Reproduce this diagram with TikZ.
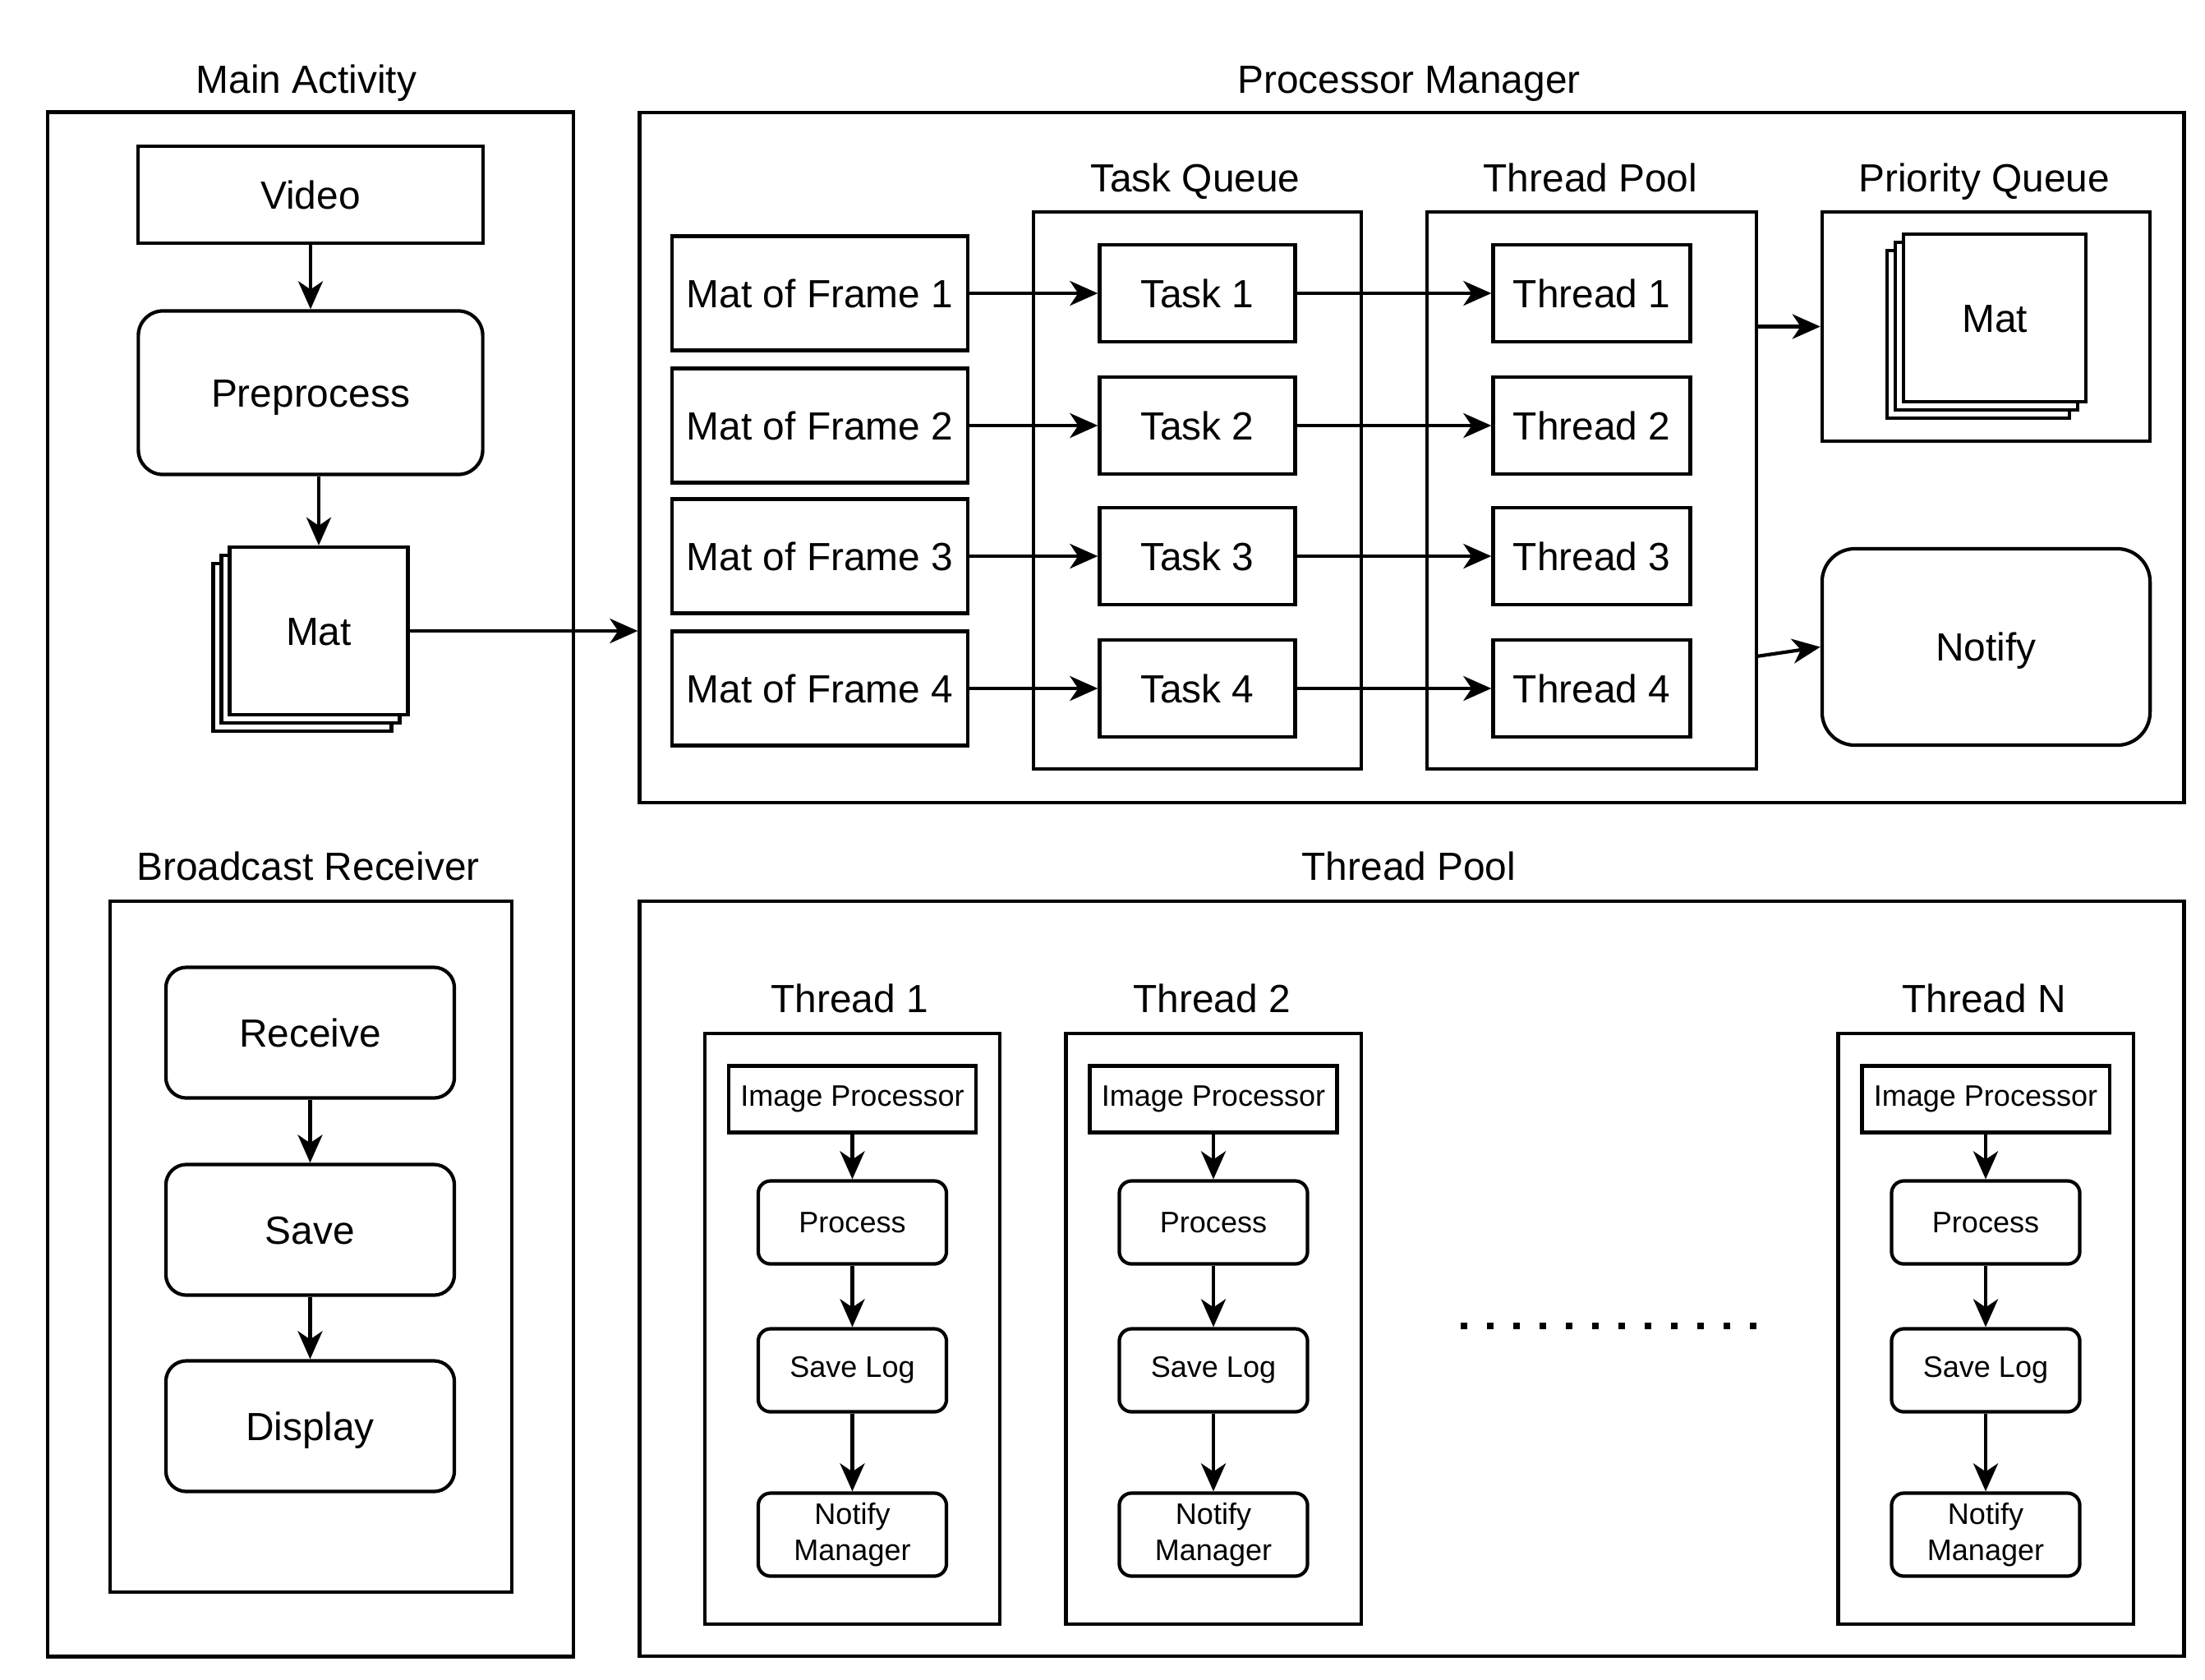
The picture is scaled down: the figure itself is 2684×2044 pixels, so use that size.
\documentclass[tikz,border=0pt]{standalone}
\usepackage{fontspec}
\setmainfont{Liberation Sans}
\usetikzlibrary{arrows.meta,shadows}

\tikzset{
	base/.style={rectangle,very thick,draw,fill=white,inner sep=0pt,align=center},
	box/.style={base,text height=0.343cm,text depth=0cm,
		font=\fontsize{13.6pt}{16pt}\selectfont},
	rbox/.style={box,rounded corners=#1},
	rbox/.default=0.3cm,
	smallbox/.style={base,font=\fontsize{10.25pt}{12.6pt}\selectfont},
	container/.style={rectangle,very thick,draw,inner sep=0pt},
	heading/.style={text height=0.343cm,text depth=0cm,font=\fontsize{13.6pt}{16pt}\selectfont},
	stack/.style={box,double copy shadow={shadow xshift=-0.1cm,shadow yshift=-0.1cm}},
	flow/.style={-{Stealth[length=0.34cm,width=0.3cm,inset=0.1cm]},very thick}
}

\begin{document}
\begin{tikzpicture}[x=0.01cm,y=-0.01cm]
		\useasboundingbox (0,0) rectangle (2684,2044);

		% Main Activity
		\node[heading] (tmain) at (373,96) {Main Activity};
		\node[container,minimum width=6.40cm,minimum height=18.79cm] (main)
			at (378,1076.5) {};
		\node[box,minimum width=4.19cm,minimum height=1.18cm] (video)
			at (378,237) {Video};
		\node[rbox,minimum width=4.19cm,minimum height=1.99cm] (pre)
			at (378,478) {Preprocess};
		\node[stack,minimum width=2.17cm,minimum height=2.04cm] (mat)
			at (388,768) {Mat};

		% Broadcast Receiver
		\node[heading] (tbrd) at (375,1054) {Broadcast Receiver};
		\node[container,minimum width=4.89cm,minimum height=8.41cm] (brd)
			at (378.5,1517.5) {};
		\node[rbox=0.25cm,minimum width=3.51cm,minimum height=1.59cm] (receive)
			at (377.5,1257) {Receive};
		\node[rbox=0.25cm,minimum width=3.51cm,minimum height=1.59cm] (save)
			at (377.5,1497) {Save};
		\node[rbox=0.25cm,minimum width=3.51cm,minimum height=1.59cm] (display)
			at (377.5,1736) {Display};

		% Processor Manager
		\node[heading] (tpm) at (1715,96) {Processor Manager};
		\node[container,minimum width=18.79cm,minimum height=8.40cm] (pm)
			at (1718.5,557) {};

		\node[box,minimum width=3.60cm,minimum height=1.39cm] (frame1)
			at (998,357) {Mat of Frame 1};
		\node[box,minimum width=3.60cm,minimum height=1.39cm] (frame2)
			at (998,518) {Mat of Frame 2};
		\node[box,minimum width=3.60cm,minimum height=1.39cm] (frame3)
			at (998,677) {Mat of Frame 3};
		\node[box,minimum width=3.60cm,minimum height=1.39cm] (frame4)
			at (998,838) {Mat of Frame 4};

		\node[heading] (ttq) at (1455,216) {Task Queue};
		\node[container,minimum width=3.99cm,minimum height=6.78cm] (tq)
			at (1457.5,597) {};
		\node[box,minimum width=2.38cm,minimum height=1.18cm] (task1)
			at (1457.5,357) {Task 1};
		\node[box,minimum width=2.38cm,minimum height=1.18cm] (task2)
			at (1457.5,518) {Task 2};
		\node[box,minimum width=2.38cm,minimum height=1.18cm] (task3)
			at (1457.5,677) {Task 3};
		\node[box,minimum width=2.38cm,minimum height=1.18cm] (task4)
			at (1457.5,838) {Task 4};

		\node[heading] (ttp) at (1936,216) {Thread Pool};
		\node[container,minimum width=4.01cm,minimum height=6.78cm] (tp)
			at (1937.5,597) {};
		\node[box,minimum width=2.40cm,minimum height=1.18cm] (thread1)
			at (1937.5,357) {Thread 1};
		\node[box,minimum width=2.40cm,minimum height=1.18cm] (thread2)
			at (1937.5,518) {Thread 2};
		\node[box,minimum width=2.40cm,minimum height=1.18cm] (thread3)
			at (1937.5,677) {Thread 3};
		\node[box,minimum width=2.40cm,minimum height=1.18cm] (thread4)
			at (1937.5,838) {Thread 4};

		\node[heading] (tpq) at (2415,216) {Priority Queue};
		\node[container,minimum width=3.99cm,minimum height=2.79cm] (pq)
			at (2417.5,397.5) {};
		\node[stack,minimum width=2.22cm,minimum height=2.04cm] (pqmat)
			at (2428,387) {Mat};

		\node[rbox=0.4cm,minimum width=3.99cm,minimum height=2.39cm] (notify)
			at (2417.5,787.5) {Notify};
		\coordinate (tpout) at (2138,799);

		% Thread Pool
		\node[heading] (tpool) at (1715,1054) {Thread Pool};
		\node[container,minimum width=18.79cm,minimum height=9.19cm] (pool)
			at (1718.5,1556.5) {};

		\node[heading] (tth1) at (1034,1215) {Thread 1};
		\node[container,minimum width=3.59cm,minimum height=7.19cm] (th1)
			at (1037.5,1617.5) {};
		\node[smallbox,minimum width=3.01cm,minimum height=0.81cm] (img1)
			at (1037.5,1338) {Image Processor};
		\node[smallbox,rounded corners=0.15cm,minimum width=2.29cm,minimum height=1.01cm] (proc1)
			at (1037.5,1488) {Process};
		\node[smallbox,rounded corners=0.15cm,minimum width=2.29cm,minimum height=1.01cm] (log1)
			at (1037.5,1668) {Save Log};
		\node[smallbox,rounded corners=0.15cm,minimum width=2.29cm,minimum height=1.01cm] (nm1)
			at (1037.5,1868) {Notify\\Manager};

		\node[heading] (tth2) at (1475,1215) {Thread 2};
		\node[container,minimum width=3.59cm,minimum height=7.19cm] (th2)
			at (1477,1617.5) {};
		\node[smallbox,minimum width=3.01cm,minimum height=0.81cm] (img2)
			at (1477,1338) {Image Processor};
		\node[smallbox,rounded corners=0.15cm,minimum width=2.29cm,minimum height=1.01cm] (proc2)
			at (1477,1488) {Process};
		\node[smallbox,rounded corners=0.15cm,minimum width=2.29cm,minimum height=1.01cm] (log2)
			at (1477,1668) {Save Log};
		\node[smallbox,rounded corners=0.15cm,minimum width=2.29cm,minimum height=1.01cm] (nm2)
			at (1477,1868) {Notify\\Manager};

		\draw[line width=0.08cm,dash pattern=on 0.08cm off 0.24cm] (1778,1614) -- (2138,1614);

		\node[heading] (tthn) at (2415,1215) {Thread N};
		\node[container,minimum width=3.59cm,minimum height=7.19cm] (thn)
			at (2417,1617.5) {};
		\node[smallbox,minimum width=3.01cm,minimum height=0.81cm] (imgn)
			at (2417,1338) {Image Processor};
		\node[smallbox,rounded corners=0.15cm,minimum width=2.29cm,minimum height=1.01cm] (procn)
			at (2417,1488) {Process};
		\node[smallbox,rounded corners=0.15cm,minimum width=2.29cm,minimum height=1.01cm] (logn)
			at (2417,1668) {Save Log};
		\node[smallbox,rounded corners=0.15cm,minimum width=2.29cm,minimum height=1.01cm] (nmn)
			at (2417,1868) {Notify\\Manager};

		% connectors
		\path[flow] (video) edge (pre);
		\path[flow] (mat.north |- pre.south) edge (mat.north);
		\path[flow] (mat.east) edge (mat -| pm.west);
		\path[flow] (receive) edge (save);
		\path[flow] (save) edge (display);

		\path[flow] (frame1) edge (task1);
		\path[flow] (frame2) edge (task2);
		\path[flow] (frame3) edge (task3);
		\path[flow] (frame4) edge (task4);
		\path[flow] (task1) edge (thread1);
		\path[flow] (task2) edge (thread2);
		\path[flow] (task3) edge (thread3);
		\path[flow] (task4) edge (thread4);
		\path[flow] (pq -| tp.east) edge (pq.west);
		\path[flow] (tpout) edge (notify.west);

		\path[flow] (img1) edge (proc1);
		\path[flow] (proc1) edge (log1);
		\path[flow] (log1) edge (nm1);
		\path[flow] (img2) edge (proc2);
		\path[flow] (proc2) edge (log2);
		\path[flow] (log2) edge (nm2);
		\path[flow] (imgn) edge (procn);
		\path[flow] (procn) edge (logn);
		\path[flow] (logn) edge (nmn);
	\end{tikzpicture}
\end{document}
